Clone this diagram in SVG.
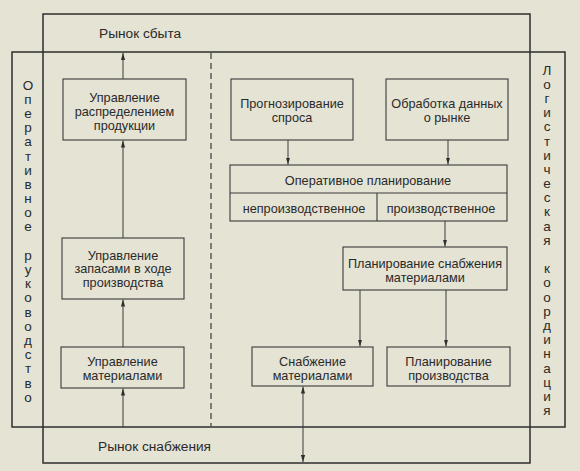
<svg xmlns="http://www.w3.org/2000/svg" width="580" height="471" viewBox="0 0 580 471">
<style>
.bg{fill:#e4e3d4}
.frame{fill:none;stroke:#2e2e2e;stroke-width:1.5}
.box{fill:none;stroke:#3a3a3a;stroke-width:1.1}
.ln{fill:none;stroke:#3a3a3a;stroke-width:1}
.dash{fill:none;stroke:#3a3a3a;stroke-width:1.2;stroke-dasharray:6 4}
text{font-family:"Liberation Sans",Arial,sans-serif;fill:#2a2a2a}
.t{font-size:12.7px;text-anchor:middle}
.title{font-size:13.7px}
.v{font-size:13.5px;text-anchor:middle}
</style>
<defs>
<marker id="ah" viewBox="0 0 7 5" refX="7" refY="2.5" markerWidth="7" markerHeight="5" markerUnits="userSpaceOnUse" orient="auto-start-reverse">
<path d="M0,0.4 L7,2.5 L0,4.6 Z" fill="#2e2e2e"/>
</marker>
</defs>
<rect class="bg" x="0" y="0" width="580" height="471"/>
<g id="frames">
<rect class="frame" x="43" y="14" width="487" height="449"/>
<rect class="frame" x="12" y="52" width="553" height="375"/>
<line class="dash" x1="211" y1="53" x2="211" y2="426"/>
</g>
<g id="market-sales"><text class="title" x="99" y="38">Рынок сбыта</text></g>
<g id="market-supply"><text class="title" x="98" y="451">Рынок снабжения</text></g>
<g id="operative-management">
<text class="v"><tspan x="28" y="89.5">О</tspan><tspan x="28" dy="14.2">п</tspan><tspan x="28" dy="14.2">е</tspan><tspan x="28" dy="14.2">р</tspan><tspan x="28" dy="14.2">а</tspan><tspan x="28" dy="14.2">т</tspan><tspan x="28" dy="14.2">и</tspan><tspan x="28" dy="14.2">в</tspan><tspan x="28" dy="14.2">н</tspan><tspan x="28" dy="14.2">о</tspan><tspan x="28" dy="14.2">е</tspan><tspan x="28" dy="28.4">р</tspan><tspan x="28" dy="14.2">у</tspan><tspan x="28" dy="14.2">к</tspan><tspan x="28" dy="14.2">о</tspan><tspan x="28" dy="14.2">в</tspan><tspan x="28" dy="14.2">о</tspan><tspan x="28" dy="14.2">д</tspan><tspan x="28" dy="14.2">с</tspan><tspan x="28" dy="14.2">т</tspan><tspan x="28" dy="14.2">в</tspan><tspan x="28" dy="14.2">о</tspan></text>
</g>
<g id="logistic-coordination">
<text class="v"><tspan x="547" y="74.5">Л</tspan><tspan x="547" dy="14.2">о</tspan><tspan x="547" dy="14.2">г</tspan><tspan x="547" dy="14.2">и</tspan><tspan x="547" dy="14.2">с</tspan><tspan x="547" dy="14.2">т</tspan><tspan x="547" dy="14.2">и</tspan><tspan x="547" dy="14.2">ч</tspan><tspan x="547" dy="14.2">е</tspan><tspan x="547" dy="14.2">с</tspan><tspan x="547" dy="14.2">к</tspan><tspan x="547" dy="14.2">а</tspan><tspan x="547" dy="14.2">я</tspan><tspan x="547" dy="28.4">к</tspan><tspan x="547" dy="14.2">о</tspan><tspan x="547" dy="14.2">о</tspan><tspan x="547" dy="14.2">р</tspan><tspan x="547" dy="14.2">д</tspan><tspan x="547" dy="14.2">и</tspan><tspan x="547" dy="14.2">н</tspan><tspan x="547" dy="14.2">а</tspan><tspan x="547" dy="14.2">ц</tspan><tspan x="547" dy="14.2">и</tspan><tspan x="547" dy="14.2">я</tspan></text>
</g>
<g id="distribution">
<rect class="box" x="63" y="79" width="123" height="61"/>
<text class="t" x="124.5" y="101.5">Управление</text>
<text class="t" x="124.5" y="115.5">распределением</text>
<text class="t" x="124.5" y="129.5">продукции</text>
</g>
<g id="inventory">
<rect class="box" x="62" y="238" width="122" height="61"/>
<text class="t" x="123" y="259.5">Управление</text>
<text class="t" x="123" y="273">запасами в ходе</text>
<text class="t" x="123" y="287">производства</text>
</g>
<g id="materials">
<rect class="box" x="61" y="347" width="123" height="41"/>
<text class="t" x="122.5" y="366">Управление</text>
<text class="t" x="122.5" y="379.5">материалами</text>
</g>
<g id="forecast">
<rect class="box" x="231" y="79" width="122" height="61"/>
<text class="t" x="292" y="108">Прогнозирование</text>
<text class="t" x="292" y="122">спроса</text>
</g>
<g id="market-data">
<rect class="box" x="386" y="79" width="122" height="61"/>
<text class="t" x="447" y="108">Обработка данных</text>
<text class="t" x="447" y="122">о рынке</text>
</g>
<g id="operative-planning">
<rect class="box" x="230" y="165" width="277" height="56"/>
<line class="box" x1="230" y1="193" x2="507" y2="193"/>
<line class="box" x1="377" y1="193" x2="377" y2="221"/>
<text class="t" x="368" y="184.5">Оперативное планирование</text>
<text class="t" x="304" y="212.5">непроизводственное</text>
<text class="t" x="441" y="212.5">производственное</text>
</g>
<g id="supply-planning">
<rect class="box" x="343" y="247" width="164" height="43"/>
<text class="t" x="425" y="267.5">Планирование снабжения</text>
<text class="t" x="425" y="281.5">материалами</text>
</g>
<g id="supply">
<rect class="box" x="252" y="347" width="121" height="39"/>
<text class="t" x="312.5" y="366">Снабжение</text>
<text class="t" x="312.5" y="380">материалами</text>
</g>
<g id="production-planning">
<rect class="box" x="387" y="347" width="123" height="39"/>
<text class="t" x="448.5" y="366">Планирование</text>
<text class="t" x="448.5" y="380">производства</text>
</g>
<g id="connectors">
<line class="ln" x1="123" y1="79" x2="123" y2="53" marker-end="url(#ah)"/>
<line class="ln" x1="123" y1="238" x2="123" y2="140.5" marker-end="url(#ah)"/>
<line class="ln" x1="123" y1="347" x2="123" y2="299.5" marker-end="url(#ah)"/>
<line class="ln" x1="123" y1="427" x2="123" y2="388.5" marker-end="url(#ah)"/>
<line class="ln" x1="288" y1="140" x2="288" y2="164.5" marker-end="url(#ah)"/>
<line class="ln" x1="448" y1="140" x2="448" y2="164.5" marker-end="url(#ah)"/>
<line class="ln" x1="445" y1="221" x2="445" y2="246.5" marker-end="url(#ah)"/>
<line class="ln" x1="360" y1="290" x2="360" y2="346.5" marker-end="url(#ah)"/>
<line class="ln" x1="446" y1="290" x2="446" y2="346.5" marker-end="url(#ah)"/>
<line class="ln" x1="303" y1="386.5" x2="303" y2="462" marker-start="url(#ah)" marker-end="url(#ah)"/>
</g>
</svg>
